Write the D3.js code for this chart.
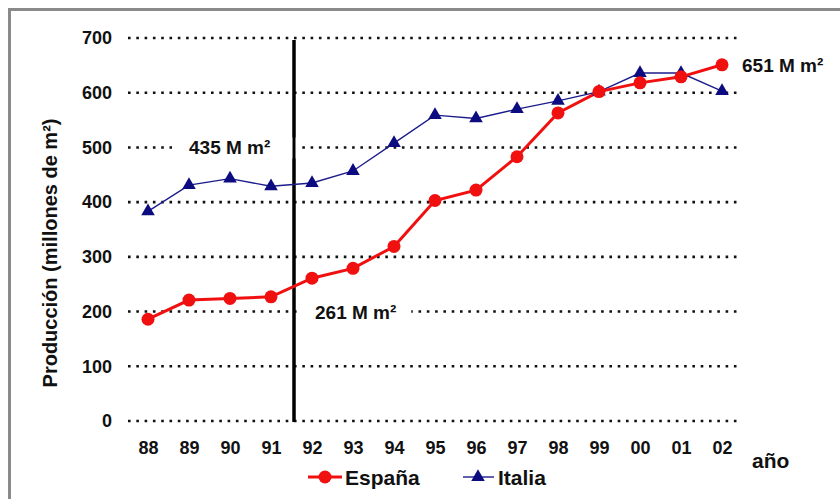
<!DOCTYPE html>
<html><head><meta charset="utf-8">
<script src="https://cdn.jsdelivr.net/npm/d3@7"></script>
<style>
body{margin:0;background:#fff;}
svg{display:block;font-family:"Liberation Sans",Arial,sans-serif;font-weight:bold;}
</style></head>
<body><svg id="c" width="840" height="499"></svg>
<script>
const years = ["88","89","90","91","92","93","94","95","96","97","98","99","00","01","02"];
const espana = [186,221,224,227,261,279,319,403,422,483,563,602,618,629,651];
const italia = [383,431,443,429,435,457,508,559,553,570,585,602,636,636,603];
const yTicks = [0,100,200,300,400,500,600,700];
const seriesNames = ["España","Italia"];
const annotations = [
  {text:"435 M m²", year:"89", value:500, dx:0, padL:17, padR:30},
  {text:"261 M m²", year:"92", value:200, dx:3, padL:17, padR:15},
  {text:"651 M m²", year:"02", value:651, dx:20, padL:0, padR:0}
];

const svg = d3.select("#c");
const x = d3.scalePoint().domain(years).range([148,722]);
const y = d3.scaleLinear().domain([0,700]).range([421,38]);

// frame
svg.append("rect").attr("x",9.5).attr("y",9.5).attr("width",840).attr("height",500)
  .attr("fill","#fff").attr("stroke","#8a8a8a").attr("stroke-width",3);

// gridlines
svg.append("g").selectAll("line").data(yTicks).join("line")
  .attr("x1",128).attr("x2",738)
  .attr("y1",d=>y(d)).attr("y2",d=>y(d))
  .attr("stroke","#111").attr("stroke-width",2.6)
  .attr("stroke-dasharray","2.6,5.7");

// y axis labels
const yAxis = d3.axisLeft(y).tickValues(yTicks).tickSize(0).tickPadding(0);
const ya = svg.append("g").attr("transform","translate(112,0)").call(yAxis);
ya.select(".domain").remove();
ya.selectAll("text").attr("font-size",18).attr("font-weight","bold")
  .attr("font-family","'Liberation Sans',Arial,sans-serif").attr("fill","#111");

// x axis labels
const xAxis = d3.axisBottom(x).tickSize(0).tickPadding(0);
const xa = svg.append("g").attr("transform","translate(0,441)").call(xAxis);
xa.select(".domain").remove();
xa.selectAll("text").attr("font-size",18).attr("font-weight","bold")
  .attr("font-family","'Liberation Sans',Arial,sans-serif").attr("fill","#111");

// vertical divider between 91 and 92
const xDiv = (x("91")+x("92"))/2 + 2.5;
svg.append("line").attr("x1",xDiv).attr("x2",xDiv).attr("y1",y(700)+2).attr("y2",y(0)+1)
  .attr("stroke","#000").attr("stroke-width",3);

// annotations with white background
annotations.forEach(a=>{
  const g = svg.append("g");
  const t = g.append("text").attr("x",x(a.year)+a.dx).attr("y",y(a.value)+7)
    .attr("font-size",19).attr("fill","#111").text(a.text);
  const bb = t.node().getBBox();
  if (a.padL > 0) {
    g.insert("rect","text").attr("x",bb.x-a.padL).attr("y",bb.y).attr("width",bb.width+a.padL+a.padR).attr("height",bb.height).attr("fill","#fff");
  }
});
// redraw divider on top of annotation backgrounds
svg.append("line").attr("x1",xDiv).attr("x2",xDiv).attr("y1",y(700)+2).attr("y2",y(0)+1)
  .attr("stroke","#000").attr("stroke-width",3);

// Italia line
const line = d3.line().x((d,i)=>x(years[i])).y(d=>y(d));
svg.append("path").datum(italia).attr("d",line).attr("fill","none")
  .attr("stroke","#1c1c8c").attr("stroke-width",1.4);
// España line
svg.append("path").datum(espana).attr("d",line).attr("fill","none")
  .attr("stroke","#f01010").attr("stroke-width",3);

const tri = d3.symbol().type(d3.symbolTriangle).size(80);
svg.append("g").selectAll("path").data(italia).join("path")
  .attr("d",tri).attr("transform",(d,i)=>`translate(${x(years[i])},${y(d)})`)
  .attr("fill","#0c0c80");
svg.append("g").selectAll("circle").data(espana).join("circle")
  .attr("cx",(d,i)=>x(years[i])).attr("cy",d=>y(d)).attr("r",6.5)
  .attr("fill","#f01010");

// y axis title
svg.append("text").attr("transform","translate(57,253) rotate(-90)")
  .attr("text-anchor","middle").attr("font-size",20).attr("fill","#111")
  .text("Producción (millones de m²)");

// x axis title
svg.append("text").attr("x",752).attr("y",468).attr("font-size",21).attr("fill","#111").text("año");

// legend
const leg = svg.append("g");
const lg1 = leg.append("g").attr("transform","translate(308,477)");
lg1.append("line").attr("x1",0).attr("x2",34).attr("stroke","#f01010").attr("stroke-width",3);
lg1.append("circle").attr("cx",17).attr("r",6.5).attr("fill","#f01010");
lg1.append("text").attr("x",37).attr("y",8).attr("font-size",21).attr("fill","#111").text(seriesNames[0]);
const lg2 = leg.append("g").attr("transform","translate(463,477)");
lg2.append("line").attr("x1",0).attr("x2",31).attr("stroke","#1c1c8c").attr("stroke-width",1.4);
lg2.append("path").attr("d",tri).attr("transform","translate(15,0)").attr("fill","#0c0c80");
lg2.append("text").attr("x",35).attr("y",8).attr("font-size",21).attr("fill","#111").text(seriesNames[1]);
</script></body></html>
